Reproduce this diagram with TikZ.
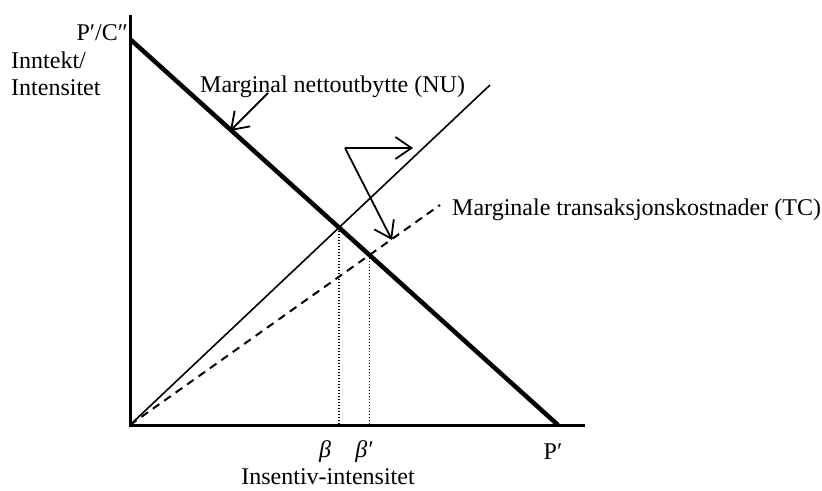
\documentclass[tikz,border=0pt]{standalone}
\usepackage{fontspec}
\setmainfont{Liberation Serif}
\usepackage{tikz}
\usetikzlibrary{arrows.meta}

\begin{document}
\begin{tikzpicture}[x=1pt,y=-1pt,font=\fontsize{24}{27}\selectfont,
  axis/.style={line width=3pt},
  demand/.style={line width=4.5pt},
  thinline/.style={line width=1.6pt},
  dashline/.style={line width=2pt,dash pattern=on 8pt off 6pt},
  dropline/.style={line width=1.4pt,dash pattern=on 1.4pt off 1.6pt},
  pointer/.style={line width=1.8pt,-{Straight Barb[length=16pt,width=22pt]}}]
\useasboundingbox (0,0) rectangle (822,490);
%% points
\coordinate (O) at (130,425);
\coordinate (ytop) at (130,15);
\coordinate (xend) at (585,425);
\coordinate (PC) at (131,40);
\coordinate (P) at (558,425);
\coordinate (NUend) at (490,85);
\coordinate (TCend) at (440,205);
\coordinate (b) at (intersection of O--NUend and PC--P);
\coordinate (bb) at (intersection of O--TCend and PC--P);

%% edges
\draw[demand] (PC) to (P);
\draw[thinline] (O) to (NUend);
\draw[dashline] (O) to (TCend);
\draw[dropline] (b) to (b |- O);
\draw[dropline] (bb) to (bb |- O);
\draw[axis] (ytop) -- (O) -- (xend);

%% pointers
\coordinate (nustart) at (268,93);
\coordinate (nutip) at (230,131);
\coordinate (knee) at (345,148);
\coordinate (kneeright) at (413,148);
\coordinate (kneedown) at (392,240);
\draw[pointer] (nustart) to (nutip);
\draw[pointer] (knee) to (kneeright);
\draw[pointer] (knee) to (kneedown);

%% labels
\node[anchor=east, inner sep=0pt] (pc) at (128,33) {P′/C″};
\node[anchor=west, align=left, inner sep=0pt] (yl) at (11,74) {Inntekt/\\Intensitet};
\node[anchor=west, inner sep=0pt] (nu) at (200,87) {Marginal nettoutbytte (NU)};
\node[anchor=west, inner sep=0pt] (tc) at (452,210) {Marginale transaksjonskostnader (TC)};
\node[inner sep=0pt] (beta) at (325,452) {\textit{β}};
\node[inner sep=0pt] (betap) at (364,452) {\textit{β′}};
\node[inner sep=0pt] (pp) at (553,452) {P′};
\node[inner sep=0pt] (xl) at (328,477) {Insentiv-intensitet};
\end{tikzpicture}
\end{document}
